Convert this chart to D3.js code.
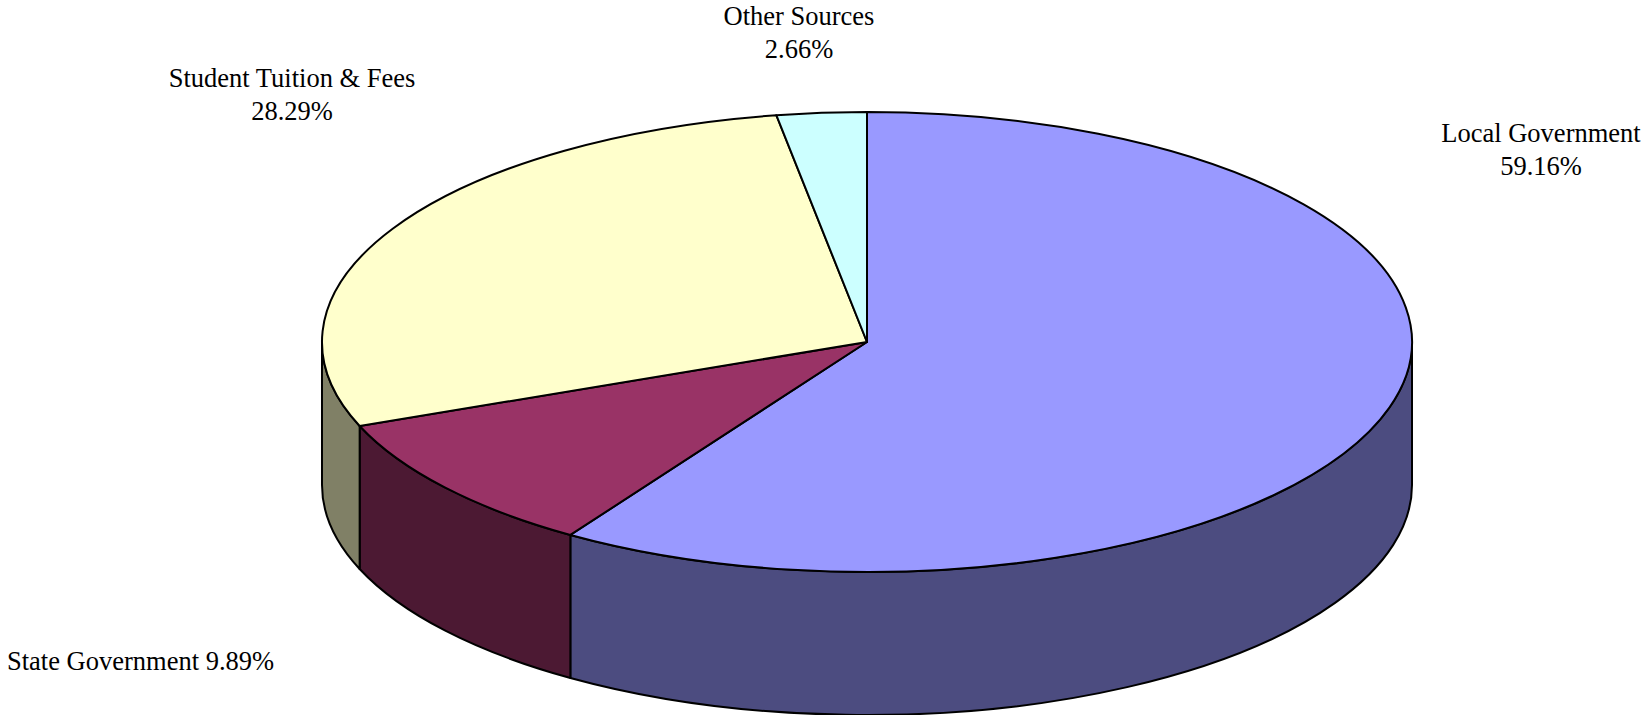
<!DOCTYPE html>
<html>
<head>
<meta charset="utf-8">
<script src="https://cdn.jsdelivr.net/npm/d3@7"></script>
<style>
  body { margin: 0; background: #fff; }
</style>
</head>
<body>
<svg id="chart" width="1644" height="715"></svg>
<script>
// data, clockwise from 12 o'clock
var categories = ["Local Government", "State Government", "Student Tuition & Fees", "Other Sources"];
var shares = [59.16, 9.89, 28.29, 2.66];
var topColors = ["#9999FF", "#993366", "#FFFFCC", "#CCFFFF"];
var sideColors = ["#4C4C80", "#4C1933", "#808066", "#668080"];

// label placement: [x, baseline y, anchor, one line?]
var labelPos = [
  [1541, 142, "middle", false],
  [7, 670, "start", true],
  [292, 87, "middle", false],
  [799, 25, "middle", false]
];

var svg = d3.select("#chart");
var cx = 867, cy = 342, rx = 545, ry = 230, depth = 143;

var pie = d3.pie().sort(null).value(function (d) { return d; });
var arcs = pie(shares);

// angle 0 = top, clockwise
function px(a) { return cx + rx * Math.sin(a); }
function py(a) { return cy - ry * Math.cos(a); }

function topPath(d) {
  var large = (d.endAngle - d.startAngle) > Math.PI ? 1 : 0;
  return "M" + cx + "," + cy +
    "L" + px(d.startAngle) + "," + py(d.startAngle) +
    "A" + rx + "," + ry + " 0 " + large + " 1 " + px(d.endAngle) + "," + py(d.endAngle) + "Z";
}

function sidePath(d) {
  var a0 = Math.max(d.startAngle, Math.PI / 2);
  var a1 = Math.min(d.endAngle, 3 * Math.PI / 2);
  if (a1 <= a0) return null;
  return "M" + px(a0) + "," + py(a0) +
    "A" + rx + "," + ry + " 0 0 1 " + px(a1) + "," + py(a1) +
    "L" + px(a1) + "," + (py(a1) + depth) +
    "A" + rx + "," + ry + " 0 0 0 " + px(a0) + "," + (py(a0) + depth) + "Z";
}

var g = svg.append("g");

g.selectAll("path.side")
  .data(arcs.filter(function (d) { return sidePath(d) != null; }))
  .enter()
  .append("path")
  .attr("class", "side")
  .attr("d", sidePath)
  .attr("fill", function (d) { return sideColors[d.index]; })
  .attr("stroke", "#000")
  .attr("stroke-width", 2)
  .attr("stroke-linejoin", "round");

g.selectAll("path.top")
  .data(arcs)
  .enter()
  .append("path")
  .attr("class", "top")
  .attr("d", topPath)
  .attr("fill", function (d) { return topColors[d.index]; })
  .attr("stroke", "#000")
  .attr("stroke-width", 2)
  .attr("stroke-linejoin", "round");

// labels
var fmt = d3.format(".2f");
categories.forEach(function (c, i) {
  var p = labelPos[i];
  var pct = fmt(shares[i]) + "%";
  var t = svg.append("text")
    .attr("x", p[0])
    .attr("y", p[1])
    .attr("text-anchor", p[2])
    .style("font-family", "'Liberation Serif', 'Times New Roman', Times, 'DejaVu Serif', serif")
    .style("font-size", "26.5px")
    .attr("fill", "#000");
  if (p[3]) {
    t.text(c + " " + pct);
  } else {
    t.append("tspan").attr("x", p[0]).text(c);
    t.append("tspan").attr("x", p[0]).attr("dy", 33).text(pct);
  }
});
</script>
</body>
</html>
